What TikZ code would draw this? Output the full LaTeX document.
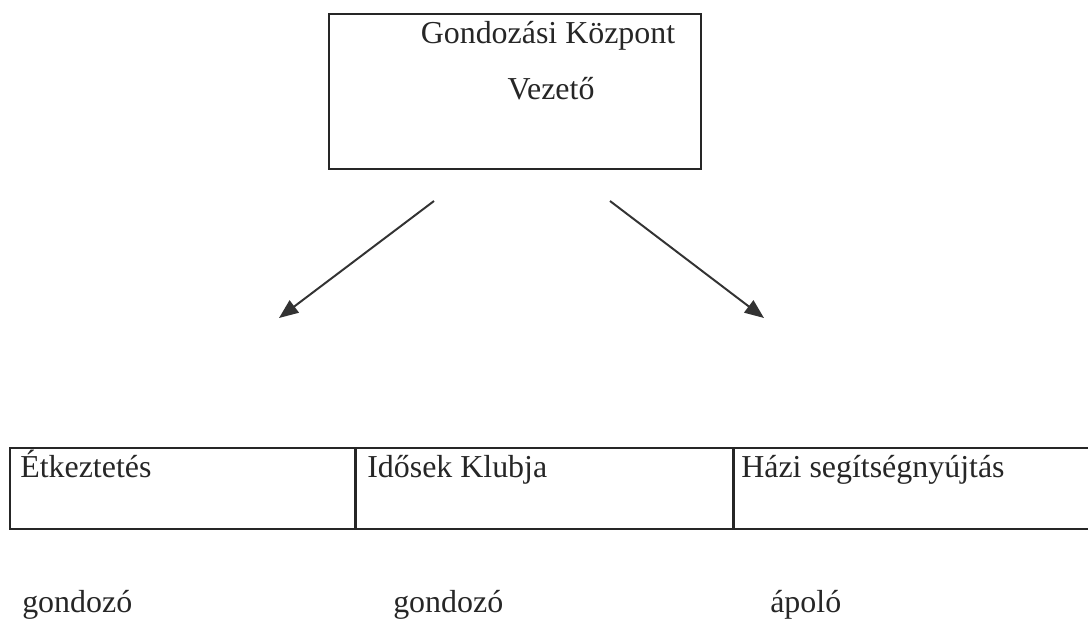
\documentclass[tikz,border=0pt]{standalone}
\usepackage{fontspec}
\setmainfont{Liberation Serif}
\usetikzlibrary{arrows.meta}
\tikzset{
	frame/.style={draw=black!85, line width=1.1pt},
	cell/.style={frame, rectangle, inner sep=0pt, anchor=north west},
	txt/.style={inner sep=0pt, anchor=base west, text=black!85, font=\fontsize{22.7}{27}\selectfont},
	pointer/.style={line width=1.4pt, draw=black!80, -{Triangle[length=0.48cm,width=0.38cm]}}
}
\begin{document}
\begin{tikzpicture}[x=0.025cm,y=-0.025cm]
	\useasboundingbox (0,0) rectangle (1088,620);
	
	%Vezeto
	\node[cell, minimum width=9.3cm, minimum height=3.875cm] at (328,13) (vez) {};
	\node[txt, anchor=base] at (548,43) (kozpont) {Gondozási Központ};
	\node[txt, anchor=base] at (551,99) (vezeto) {Vezető};
	
	%Arrows
	\coordinate (bal) at (434,201); %left start
	\coordinate (balv) at (279,318);
	\coordinate (jobb) at (610,201); %right start
	\coordinate (jobbv) at (764,318);
	\draw[pointer] (bal) -- (balv);
	\draw[pointer] (jobb) -- (jobbv);
	
	%Table
	\node[cell, minimum width=8.625cm, minimum height=2.025cm] at (9,447) (etk) {};
	\node[cell, minimum width=9.4cm, minimum height=2.025cm] at (etk.north east) (klub) {};
	\node[cell, minimum width=9.125cm, minimum height=2.025cm] at (klub.north east) (hazi) {};
	\node[txt] at (20,477) (etkt) {Étkeztetés};
	\node[txt] at (367,477) (klubt) {Idősek Klubja};
	\node[txt] at (741,477) (hazit) {Házi segítségnyújtás};
	
	%Staff
	\node[txt] at (22,612) (gond1) {gondozó};
	\node[txt] at (393,612) (gond2) {gondozó};
	\node[txt] at (770,612) (apolo) {ápoló};

\end{tikzpicture}
\end{document}
